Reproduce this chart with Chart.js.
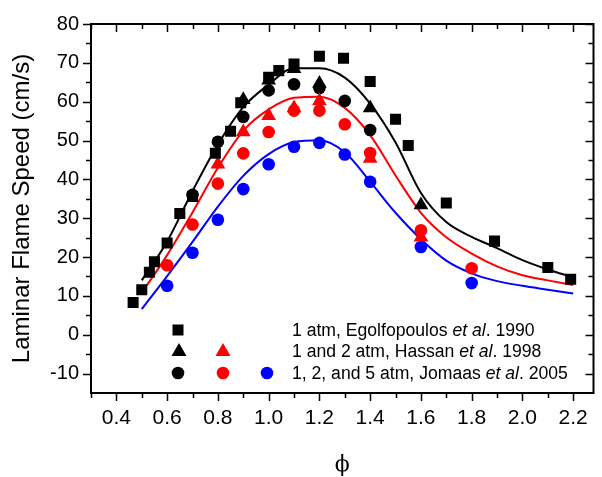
<!DOCTYPE html>
<html lang="en">
<head>
<meta charset="UTF-8">
<title>Laminar Flame Speed</title>
<script src="https://cdn.jsdelivr.net/npm/chart.js"></script>
<style>
  body { margin: 0; background: #fff; }
  .wrap { width: 602px; height: 477px; }
</style>
</head>
<body>
<div class="wrap"><canvas id="flameChart"></canvas></div>
<script>
// axis ticks
const xMajor = [0.4, 0.6, 0.8, 1.0, 1.2, 1.4, 1.6, 1.8, 2.0, 2.2];
const xMinor = [0.3, 0.5, 0.7, 0.9, 1.1, 1.3, 1.5, 1.7, 1.9, 2.1];
const yMajor = [-10, 0, 10, 20, 30, 40, 50, 60, 70, 80];
const yMinor = [-5, 5, 15, 25, 35, 45, 55, 65, 75];

// Egolfopoulos et al. 1990, 1 atm (squares)
const egolfPhi = [0.466, 0.5, 0.53, 0.55, 0.6, 0.65, 0.7, 0.79, 0.85, 0.89, 1.0, 1.04, 1.1, 1.2, 1.295, 1.4, 1.5, 1.55, 1.7, 1.89, 2.1, 2.19];
const egolfSpeed = [8.3, 11.6, 16.1, 18.8, 23.6, 31.2, 35.6, 46.7, 52.4, 59.7, 66.3, 68, 69.7, 71.7, 71.2, 65.2, 55.5, 48.7, 33.9, 24.1, 17.3, 14.3];

// Hassan et al. 1998 (triangles)
const hassan1Phi = [0.9, 1.0, 1.1, 1.2, 1.4, 1.6];
const hassan1Speed = [60.5, 65.5, 68.5, 64.7, 58.4, 33.4];
const hassan2Phi = [0.8, 0.9, 1.0, 1.1, 1.2, 1.4, 1.6];
const hassan2Speed = [43.9, 52.2, 56.4, 58.4, 60.2, 45.4, 25.1];

// Jomaas et al. 2005 (circles)
const jomaas1Phi = [0.7, 0.8, 0.9, 1.0, 1.1, 1.2, 1.3, 1.4];
const jomaas1Speed = [36, 49.7, 56.1, 62.9, 64.5, 63.5, 60.2, 52.7];
const jomaas2Phi = [0.6, 0.7, 0.8, 0.9, 1.0, 1.1, 1.2, 1.3, 1.4, 1.6, 1.8];
const jomaas2Speed = [17.9, 28.4, 38.9, 46.7, 52.2, 57.7, 57.7, 54.2, 46.8, 26.9, 17.1];
const jomaas5Phi = [0.6, 0.7, 0.8, 0.9, 1.0, 1.1, 1.2, 1.3, 1.4, 1.6, 1.8];
const jomaas5Speed = [12.6, 21.1, 29.6, 37.5, 43.9, 48.4, 49.4, 46.4, 39.4, 22.6, 13.3];

// model curves at 1, 2 and 5 atm
const modelPhi = [0.5, 0.6, 0.7, 0.8, 0.9, 1.0, 1.1, 1.2, 1.3, 1.4, 1.5, 1.6, 1.7, 1.8, 1.9, 2.0, 2.1, 2.2];
const model1 = [14, 24, 37, 49, 58.6, 64.4, 68.6, 68.6, 66.2, 59.5, 49.5, 36.5, 29, 25.2, 22.3, 19.2, 16.8, 14.8];
const model2 = [10.8, 20.5, 31.5, 43, 52.5, 58, 61, 61.3, 58.4, 51.4, 41, 31.4, 25.1, 20.9, 17.6, 15.3, 14, 12.8];
const model5 = [6.6, 15.1, 23.9, 33, 40.9, 46.5, 49.6, 50.1, 47, 39.4, 31.4, 24.6, 19.1, 15.8, 13.8, 12.6, 11.6, 10.6];

const legendRows = [
  ['1 atm, Egolfopoulos ', 'et al', '. 1990'],
  ['1 and 2 atm, Hassan ', 'et al', '. 1998'],
  ['1, 2, and 5 atm, Jomaas ', 'et al', '. 2005']
];

const BLACK = '#000000', RED = '#ff0000', BLUE = '#0000ff';
const FONT = "'Liberation Sans', Arial, sans-serif";

function pts(xs, ys) { return xs.map((x, i) => ({ x: x, y: ys[i] })); }

function markers(xs, ys, style, color, r) {
  return { data: pts(xs, ys), pointStyle: style, pointRadius: r, backgroundColor: color,
           borderColor: color, borderWidth: 0, showLine: false, order: 1 };
}
function curve(ys, color) {
  return { data: pts(modelPhi, ys), showLine: true, borderColor: color, borderWidth: 2,
           pointRadius: 0, cubicInterpolationMode: 'monotone', fill: false, order: 5 };
}

function shape(ctx, kind, x, y, color) {
  ctx.fillStyle = color;
  ctx.beginPath();
  if (kind === 'rect') ctx.rect(x - 5.5, y - 5.5, 11, 11);
  else if (kind === 'triangle') { ctx.moveTo(x, y - 8); ctx.lineTo(x + 7.5, y + 5); ctx.lineTo(x - 7.5, y + 5); ctx.closePath(); }
  else ctx.arc(x, y, 6.3, 0, Math.PI * 2);
  ctx.fill();
}

const framePlugin = {
  id: 'frame',
  afterDatasetsDraw(chart) {
    const { ctx, chartArea: a, scales: { x, y } } = chart;
    ctx.save();
    ctx.strokeStyle = '#000';
    ctx.lineWidth = 2;
    ctx.strokeRect(a.left, a.top, a.right - a.left, a.bottom - a.top);
    ctx.lineWidth = 1.5;
    ctx.beginPath();
    const tx = (v, len) => {
      const p = Math.round(x.getPixelForValue(v)) + 0.5;
      ctx.moveTo(p, a.bottom); ctx.lineTo(p, a.bottom + len);
      ctx.moveTo(p, a.top); ctx.lineTo(p, a.top + len);
    };
    const ty = (v, len) => {
      const p = Math.round(y.getPixelForValue(v)) + 0.5;
      ctx.moveTo(a.left, p); ctx.lineTo(a.left - len, p);
      ctx.moveTo(a.right, p); ctx.lineTo(a.right - len, p);
    };
    xMajor.forEach(v => tx(v, 8)); xMinor.forEach(v => tx(v, 5));
    yMajor.forEach(v => ty(v, 8)); yMinor.forEach(v => ty(v, 5));
    ctx.stroke();

    // legend
    const rowY = [330, 351, 373];
    shape(ctx, 'rect', 178, rowY[0], BLACK);
    shape(ctx, 'triangle', 179, rowY[1], BLACK);
    shape(ctx, 'triangle', 223, rowY[1], RED);
    shape(ctx, 'circle', 178, rowY[2], BLACK);
    shape(ctx, 'circle', 223, rowY[2], RED);
    shape(ctx, 'circle', 267, rowY[2], BLUE);
    ctx.fillStyle = '#000';
    ctx.textBaseline = 'middle';
    ctx.textAlign = 'left';
    legendRows.forEach((row, i) => {
      let cx = 292;
      row.forEach((part, j) => {
        ctx.font = (j === 1 ? 'italic ' : '') + '17.6px ' + FONT;
        ctx.fillText(part, cx, rowY[i] + 1);
        cx += ctx.measureText(part).width;
      });
    });
    ctx.restore();
  }
};

new Chart(document.getElementById('flameChart'), {
  type: 'scatter',
  data: {
    datasets: [
      markers(egolfPhi, egolfSpeed, 'rect', BLACK, 7.8),
      markers(hassan1Phi, hassan1Speed, 'triangle', BLACK, 8.5),
      markers(hassan2Phi, hassan2Speed, 'triangle', RED, 8.5),
      markers(jomaas1Phi, jomaas1Speed, 'circle', BLACK, 6.3),
      markers(jomaas2Phi, jomaas2Speed, 'circle', RED, 6.3),
      markers(jomaas5Phi, jomaas5Speed, 'circle', BLUE, 6.3),
      curve(model1, BLACK),
      curve(model2, RED),
      curve(model5, BLUE)
    ]
  },
  options: {
    responsive: true,
    maintainAspectRatio: false,
    animation: false,
    layout: { padding: { top: 14, right: 0, left: 0, bottom: 0 } },
    plugins: { legend: { display: false }, tooltip: { enabled: false } },
    scales: {
      x: {
        type: 'linear', min: 0.3, max: 2.28,
        afterBuildTicks: s => { s.ticks = xMajor.map(v => ({ value: v })); },
        afterFit: s => { s.height = 84; },
        grid: { display: false, drawTicks: false },
        border: { display: false },
        ticks: { color: '#000', padding: 13, font: { family: FONT, size: 21 },
                 maxRotation: 0, autoSkip: false, callback: v => v.toFixed(1) },
        title: { display: true, text: '\u03D5', color: '#000',
                 font: { family: "'DejaVu Serif', 'Liberation Serif', serif", size: 22, lineHeight: 1 },
                 padding: { top: 0, bottom: 1 } }
      },
      y: {
        min: -15, max: 80,
        afterBuildTicks: s => { s.ticks = yMajor.map(v => ({ value: v })); },
        afterFit: s => { s.width = 91; },
        grid: { display: false, drawTicks: false },
        border: { display: false },
        ticks: { color: '#000', padding: 12, font: { family: FONT, size: 20 }, autoSkip: false },
        title: { display: true, text: 'Laminar Flame Speed (cm/s)', color: '#000',
                 font: { family: FONT, size: 24, lineHeight: 1.2 },
                 padding: { top: 8, bottom: 0 } }
      }
    }
  },
  plugins: [framePlugin]
});
</script>
</body>
</html>
